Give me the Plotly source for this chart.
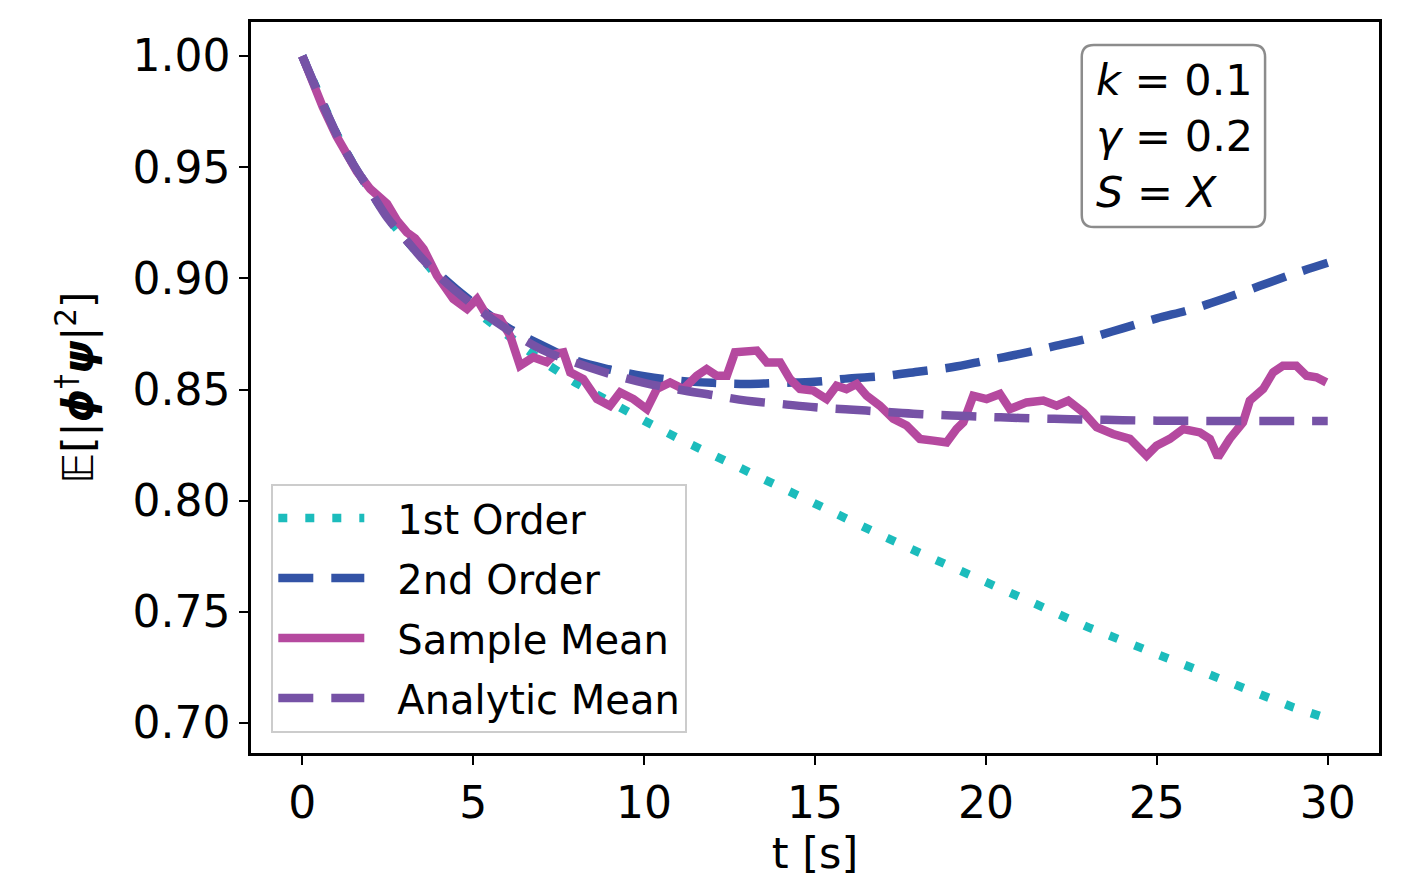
import plotly.graph_objects as go

# ---- data ----
t_curve = [0, 0.5, 1, 1.5, 2, 2.5, 3, 3.5, 4, 5, 6, 7, 8, 9, 10, 11, 12, 13, 14, 15,
           16, 17, 18, 19, 20, 21, 22, 23, 24, 25, 26, 27, 28, 29, 30]

first_order = [1.000, 0.982, 0.965, 0.951, 0.939, 0.927, 0.918, 0.909, 0.900, 0.886,
               0.874, 0.863, 0.853, 0.844, 0.836, 0.828, 0.8205, 0.813, 0.8055, 0.798,
               0.791, 0.784, 0.777, 0.770, 0.763, 0.756, 0.7495, 0.743, 0.737, 0.731,
               0.7245, 0.719, 0.713, 0.707, 0.702]

second_order = [1.000, 0.982, 0.965, 0.951, 0.939, 0.928, 0.918, 0.910, 0.902, 0.889,
                0.878, 0.870, 0.863, 0.859, 0.856, 0.854, 0.853, 0.8525, 0.853, 0.8535,
                0.855, 0.856, 0.858, 0.860, 0.863, 0.866, 0.8695, 0.873, 0.8775, 0.882,
                0.886, 0.891, 0.8965, 0.902, 0.907]

analytic_mean = [1.000, 0.982, 0.965, 0.951, 0.939, 0.927, 0.918, 0.909, 0.901, 0.888,
                 0.877, 0.868, 0.862, 0.857, 0.853, 0.850, 0.8475, 0.845, 0.8435, 0.842,
                 0.841, 0.840, 0.839, 0.8383, 0.8377, 0.8372, 0.8368, 0.8365, 0.8362, 0.836,
                 0.8359, 0.8358, 0.8358, 0.8358, 0.8358]

t_sample = [0.0, 0.3, 0.6, 1.0, 1.31, 1.6, 1.99, 2.2, 2.48, 2.77, 3.06, 3.3, 3.55, 3.94,
            4.2, 4.42, 4.82, 5.11, 5.40, 5.79, 6.08, 6.37, 6.76, 7.15, 7.4, 7.64, 7.84,
            8.22, 8.62, 9.0, 9.30, 9.69, 10.08, 10.37, 10.76, 11.15, 11.54, 11.83, 12.13,
            12.42, 12.66, 13.0, 13.30, 13.59, 13.98, 14.27, 14.56, 14.95, 15.34, 15.63,
            15.92, 16.22, 16.51, 16.90, 17.29, 17.68, 18.07, 18.46, 18.85, 19.14, 19.34,
            19.63, 20.02, 20.41, 20.70, 21.19, 21.68, 22.07, 22.41, 22.85, 23.24, 23.72,
            24.21, 24.70, 24.99, 25.38, 25.77, 26.26, 26.55, 26.79, 27.13, 27.52, 27.72,
            28.11, 28.40, 28.69, 29.08, 29.38, 29.67, 29.96]

sample_mean = [1.000, 0.988, 0.977, 0.964, 0.9552, 0.948, 0.9402, 0.937, 0.9335, 0.926,
               0.9207, 0.918, 0.9132, 0.9012, 0.895, 0.8907, 0.8862, 0.8907, 0.8832, 0.8817,
               0.8742, 0.8607, 0.8645, 0.8623, 0.866, 0.8667, 0.8577, 0.8547, 0.8457, 0.8427,
               0.8487, 0.8457, 0.8412, 0.8502, 0.8532, 0.8502, 0.8562, 0.8592, 0.8562, 0.8562,
               0.8667, 0.8667, 0.8675, 0.8622, 0.8622, 0.8547, 0.8502, 0.8495, 0.8457, 0.8517,
               0.8502, 0.8525, 0.8472, 0.8427, 0.8368, 0.8338, 0.8278, 0.8270, 0.8262, 0.8322,
               0.8352, 0.8472, 0.8457, 0.848, 0.8412, 0.8442, 0.845, 0.8427, 0.845, 0.8397,
               0.8330, 0.8300, 0.8278, 0.8202, 0.8247, 0.8278, 0.8322, 0.8307, 0.8278, 0.8195,
               0.8278, 0.8352, 0.8450, 0.8502, 0.8577, 0.8607, 0.8607, 0.8562, 0.8555, 0.8532]

x_ticks = [0, 5, 10, 15, 20, 25, 30]
y_ticks = [0.70, 0.75, 0.80, 0.85, 0.90, 0.95, 1.00]
y_tick_labels = ["0.70", "0.75", "0.80", "0.85", "0.90", "0.95", "1.00"]

FONT = "DejaVu Sans"
C_FIRST = "#1cbcbc"
C_SECOND = "#3353a6"
C_SAMPLE = "#b5499f"
C_ANALYTIC = "#7652a6"
LW = 8.5
GAP = "\u2002\u2009"

fig = go.Figure()
fig.add_trace(go.Scatter(x=t_curve, y=first_order, mode="lines", name=GAP + "1st Order",
                         legendgroup="a",
                         line=dict(color=C_FIRST, width=LW, dash="9px,18px")))
fig.add_trace(go.Scatter(x=t_curve, y=second_order, mode="lines", name=GAP + "2nd Order",
                         legendgroup="b",
                         line=dict(color=C_SECOND, width=LW, dash="35px,18px", shape="spline")))
fig.add_trace(go.Scatter(x=t_sample, y=sample_mean, mode="lines", name=GAP + "Sample Mean",
                         legendgroup="c",
                         line=dict(color=C_SAMPLE, width=LW)))
fig.add_trace(go.Scatter(x=t_curve, y=analytic_mean, mode="lines", name=GAP + "Analytic Mean",
                         legendgroup="d",
                         line=dict(color=C_ANALYTIC, width=LW, dash="35px,18px", shape="spline")))

axis_common = dict(showline=True, linecolor="black", linewidth=2.5, mirror=True,
                   ticks="outside", ticklen=9, tickwidth=2, tickcolor="black",
                   showgrid=False, zeroline=False,
                   tickfont=dict(family=FONT, size=44, color="black"))

fig.update_xaxes(range=[-1.5, 31.5], tickvals=x_ticks,
                 title=dict(text="t [s]", font=dict(family=FONT, size=43, color="black"),
                            standoff=12),
                 **axis_common)
fig.update_yaxes(range=[0.6865, 1.0153], tickvals=y_ticks, ticktext=y_tick_labels,
                 title=dict(text="𝔼[|<b><i>ϕ</i></b><sup>†</sup><b><i>ψ</i></b>|<sup>2</sup>]",
                            font=dict(family=FONT, size=42, color="black"), standoff=26),
                 **axis_common)

# rounded parameter box (paper coordinates)
bx0, bx1, by0, by1 = 0.7365, 0.8990, 0.7195, 0.9685
rx, ry = 0.0107, 0.0165
path = (f"M {bx0+rx},{by0} L {bx1-rx},{by0} Q {bx1},{by0} {bx1},{by0+ry} "
        f"L {bx1},{by1-ry} Q {bx1},{by1} {bx1-rx},{by1} "
        f"L {bx0+rx},{by1} Q {bx0},{by1} {bx0},{by1-ry} "
        f"L {bx0},{by0+ry} Q {bx0},{by0} {bx0+rx},{by0} Z")
fig.add_shape(type="path", path=path, xref="paper", yref="paper",
              line=dict(color="#8c8c8c", width=2.5), fillcolor="white", layer="above")
fig.add_annotation(xref="paper", yref="paper", x=(bx0 + bx1) / 2 + 0.001, y=(by0 + by1) / 2,
                   xanchor="center", yanchor="middle", align="left", showarrow=False,
                   text="<i>k</i> = 0.1<br><i>γ</i> = 0.2<br><i>S</i> = <i>X</i>",
                   font=dict(family=FONT, size=43, color="black"))

fig.update_layout(
    width=1421, height=888,
    margin=dict(l=251, r=42, t=22, b=135),
    paper_bgcolor="white", plot_bgcolor="white",
    showlegend=True,
    legend=dict(x=0.018, y=0.028, xanchor="left", yanchor="bottom",
                bgcolor="rgba(255,255,255,0.85)", bordercolor="#cccccc", borderwidth=2,
                font=dict(family=FONT, size=40, color="black"),
                itemwidth=86, tracegroupgap=5, traceorder="grouped"),
)

fig.write_html("out.html")
